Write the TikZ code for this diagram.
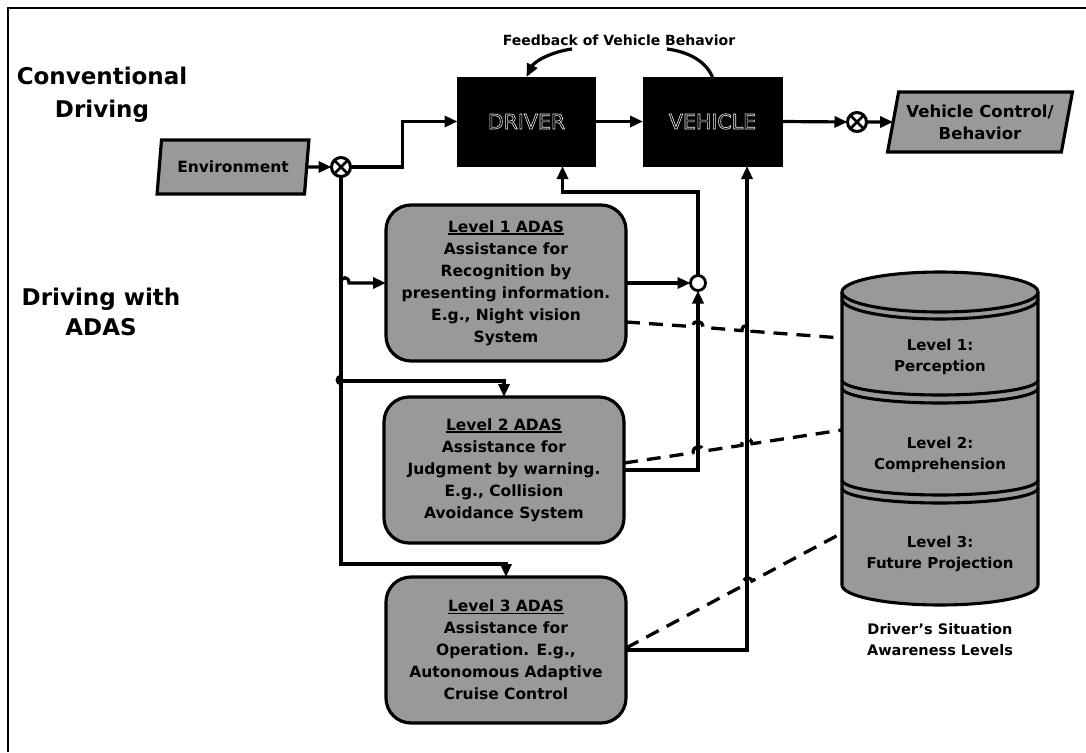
\documentclass[tikz,border=0pt]{standalone}
\usepackage{fontspec}
\setmainfont{DejaVu Sans}
\usetikzlibrary{arrows.meta,shapes.geometric,calc}

\definecolor{dither}{gray}{0.60}
\definecolor{capgray}{gray}{0.95}

% thick underline for the box titles
\newcommand{\thickul}[1]{\setbox0=\hbox{#1}\rlap{\rule[-2.6pt]{\wd0}{1.8pt}}\box0}
% hollow (stroked) lettering for the two black blocks
\newcommand{\outlined}[1]{\special{pdf:literal direct 1 Tr}#1\special{pdf:literal direct 0 Tr}}

\begin{document}
\begin{tikzpicture}[x=1pt,y=-1pt,
  every node/.style={inner sep=0pt, outer sep=0pt},
  wire/.style={line width=3.2pt},
  conn/.style={wire, -{Triangle[length=13pt,width=11pt]}},
  awareness/.style={line width=3.3pt, dash pattern=on 14pt off 9pt},
  boxtext/.style={font=\bfseries\fontsize{15.5}{22}\selectfont, align=center},
  blockbox/.style={draw=black, fill=black, line width=0.6pt, minimum width=138pt,
    minimum height=89pt, text=capgray, font=\fontsize{20.5}{24}\selectfont},
  adas/.style={boxtext, draw, line width=3.2pt, fill=dither, rounded corners=25pt,
    minimum width=240pt, minimum height=146pt},
  slanted/.style={boxtext, trapezium, trapezium left angle=74, trapezium right angle=106,
    trapezium stretches=true, draw, line width=3.2pt, fill=dither},
  mixer/.style={circle, draw, line width=3pt, fill=white, minimum size=19pt,
    path picture={\draw[line width=2.8pt]
      (path picture bounding box.north west) -- (path picture bounding box.south east)
      (path picture bounding box.north east) -- (path picture bounding box.south west);}},
  junction/.style={circle, draw, line width=2.8pt, fill=white, minimum size=15pt},
  heading/.style={font=\bfseries\fontsize{23}{33}\selectfont, align=center},
  cyltext/.style={font=\bfseries\fontsize{15}{21}\selectfont, align=center},
]
\useasboundingbox (0,0) rectangle (1086,752);
\fill[white] (0,0) rectangle (1086,752);

% frame
\draw[line width=1.6pt] (8,752) -- (8,8) -- (1086,8);

% section headings
\node[heading] (conv) at (102,95) {Conventional\\Driving};
\node[heading, font=\bfseries\fontsize{23}{30}\selectfont] (withadas) at (101,312) {Driving with\\ADAS};

% conventional loop
\node[slanted, minimum width=152pt, minimum height=54pt] (env) at (233,167) {Environment};
\node[mixer] (ot1) at (341,167) {};
\node[blockbox] (drv) at (526.5,121.5) {\outlined{DRIVER}};
\node[blockbox, minimum width=139pt] (veh) at (712.5,121.5) {\outlined{VEHICLE}};
\node[mixer] (ot2) at (857,122) {};
\node[slanted, font=\bfseries\fontsize{16.5}{22}\selectfont, minimum width=185pt,
  minimum height=60pt] (vcb) at (980,122) {Vehicle Control/\\Behavior};

\node[font=\bfseries\fontsize{14}{16}\selectfont] (fb) at (619,40) {Feedback of Vehicle Behavior};
\coordinate (fbL) at (572,49);
\coordinate (fbR) at (667,49);

\draw[conn] (env.east) -- (ot1.west);
\draw[conn] (ot1.east) -- ++(52,0) |- (drv.west);
\draw[conn] (drv.east) -- (veh.west);
\draw[conn] (veh.east) -- (ot2.west);
\draw[conn] (ot2.east) -- (vcb.west);
\draw[conn] (fbL) .. controls (550,52) and (534,62) .. (drv.north);
\draw[wire] (fbR) .. controls (690,52) and (706,62) .. (veh.north);

% ADAS levels
\node[adas, minimum height=156pt] (L1) at (506,283)
  {\thickul{Level 1 ADAS}\\Assistance for\\Recognition by\\presenting information.\\E.g., Night vision\\System};
\node[adas] (L2) at (504,470)
  {\thickul{Level 2 ADAS}\\Assistance for\\Judgment by warning.\\E.g., Collision\\Avoidance System};
\node[adas] (L3) at (506,650)
  {\thickul{Level 3 ADAS}\\Assistance for\\Operation. E.g.,\\Autonomous Adaptive\\Cruise Control};

\node[junction] (jn) at (698,283) {};
\coordinate (drvin) at ($(drv.south east)+(-33,0)$);
\coordinate (vehin) at ($(veh.south east)+(-35,0)$);

% branches from the environment mixer
\coordinate (b1) at (ot1.south |- L1.west);
\coordinate (b2) at (341,381);
\draw[conn] (ot1.south) |- ($(L3.north)+(0,-13)$) -- (L3.north);
\draw[conn] (b1) .. controls ($(b1)+(0,-7)$) and ($(b1)+(8,-7)$) .. ($(b1)+(8,0)$) -- (L1.west);
\draw[conn] (b2) -| (L2.north);
\draw[wire] ($(b2)+(0,-5)$) .. controls ($(b2)+(-5,-4)$) and ($(b2)+(-5,2)$) .. ($(b2)+(0,3)$);

% assistance paths back to driver and vehicle
\draw[conn] (L1.east) -- (jn.west);
\draw[conn] (L2.east) -| (jn.south);
\draw[conn] (jn.north) |- ($(drvin)+(0,26)$) -- (drvin);
\draw[conn] (L3.east) -| (vehin);

% situation awareness cylinder
\begin{scope}[line width=3.1pt]
  \filldraw[fill=dither] (842,292) -- (842,585)
    arc[start angle=180, end angle=0, x radius=98, y radius=20] -- (1038,292);
  \filldraw[fill=dither] (940,292) ellipse[x radius=98, y radius=20];
  \draw (842,299) arc[start angle=180, end angle=0, x radius=98, y radius=20];
  \draw (842,380) arc[start angle=180, end angle=0, x radius=98, y radius=15];
  \draw (842,388) arc[start angle=180, end angle=0, x radius=98, y radius=15];
  \draw (842,480) arc[start angle=180, end angle=0, x radius=98, y radius=15];
  \draw (842,488) arc[start angle=180, end angle=0, x radius=98, y radius=15];
\end{scope}
\node[cyltext] (sa1) at (940,357) {Level 1:\\Perception};
\node[cyltext] (sa2) at (940,455) {Level 2:\\Comprehension};
\node[cyltext] (sa3) at (940,554) {Level 3:\\Future Projection};
\node[cyltext, font=\bfseries\fontsize{14.5}{21}\selectfont] (sacap) at (940,640)
  {Driver's Situation\\Awareness Levels};

% links from each ADAS level to its awareness level
\coordinate (d1) at ($(L1.east)+(0,39)$);
\coordinate (d2) at ($(L2.east)+(0,-7)$);
\coordinate (d3) at ($(L3.east)+(0,-2)$);
\coordinate (c1) at (842,338);
\coordinate (c2) at (842,430);
\coordinate (c3) at (842,533);
\draw[awareness] (d1) -- (693,326.6) .. controls (693,319) and (703,320) .. (703,327.3)
  -- (742,330.6) .. controls (742,323) and (752,324) .. (752,331.3) -- (c1);
\draw[awareness] (d2) -- (693,452.8) .. controls (693,445) and (703,444) .. (703,451.2)
  -- (742,445.3) .. controls (741,438) and (751,436) .. (752,443.7) -- (c2);
\draw[awareness] (d3) -- (742,586.2) .. controls (740,579) and (750,575) .. (752,581) -- (c3);
\end{tikzpicture}
\end{document}
